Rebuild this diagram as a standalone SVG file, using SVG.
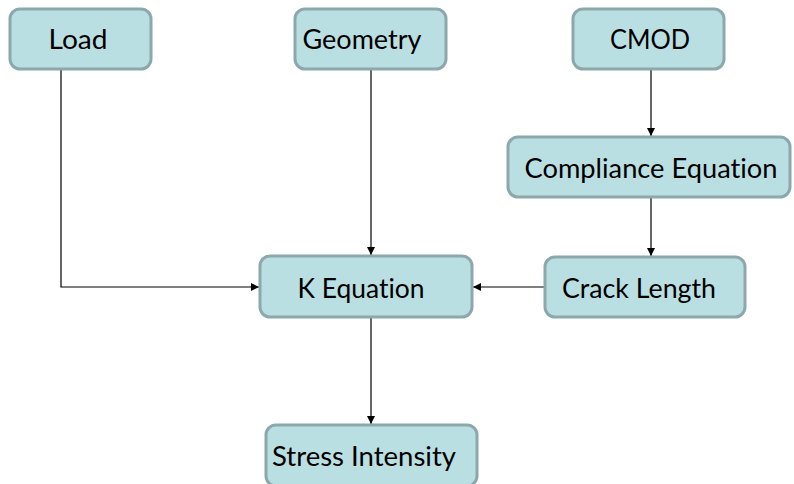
<svg xmlns="http://www.w3.org/2000/svg" width="794" height="484" viewBox="0 0 794 484">
<style>
.box{fill:#b9dfe3;stroke:#8da8ab;stroke-width:3}
.lbl{font-family:Lato,"Open Sans","Liberation Sans",sans-serif;font-size:26px;fill:#000;text-anchor:middle;font-variant-ligatures:none;font-feature-settings:"liga" 0}
.conn{fill:none;stroke:#000;stroke-width:1.2}
</style>
<defs>
<marker id="arr" viewBox="0 0 10 10" refX="10" refY="5" markerWidth="8" markerHeight="8" markerUnits="userSpaceOnUse" orient="auto">
<path d="M0,0 L10,5 L0,10 z" fill="#000"/>
</marker>
</defs>
<rect width="794" height="484" fill="#fff"/>
<g id="connectors">
<path class="conn" d="M61,70 V287 H259" marker-end="url(#arr)"/>
<path class="conn" d="M371,69 V255" marker-end="url(#arr)"/>
<path class="conn" d="M651,69 V136" marker-end="url(#arr)"/>
<path class="conn" d="M651,198 V256" marker-end="url(#arr)"/>
<path class="conn" d="M545,287 H473" marker-end="url(#arr)"/>
<path class="conn" d="M371,318 V424" marker-end="url(#arr)"/>
</g>
<g id="load"><rect class="box" x="10" y="9" width="141" height="60" rx="10"/><text class="lbl" x="78" y="49" textLength="59" lengthAdjust="spacingAndGlyphs">Load</text></g>
<g id="geometry"><rect class="box" x="295" y="9" width="151" height="60" rx="10"/><text class="lbl" x="362" y="49" textLength="119" lengthAdjust="spacingAndGlyphs">Geometry</text></g>
<g id="cmod"><rect class="box" x="573" y="9" width="151" height="60" rx="10"/><text class="lbl" x="650" y="49" textLength="80" lengthAdjust="spacingAndGlyphs">CMOD</text></g>
<g id="compliance"><rect class="box" x="508" y="137" width="282" height="60" rx="10"/><text class="lbl" x="651" y="178" textLength="253" lengthAdjust="spacingAndGlyphs">Compliance Equation</text></g>
<g id="kequation"><rect class="box" x="260" y="256" width="212" height="61" rx="10"/><text class="lbl" x="361" y="298" textLength="127" lengthAdjust="spacingAndGlyphs">K Equation</text></g>
<g id="cracklength"><rect class="box" x="545" y="257" width="200" height="60" rx="10"/><text class="lbl" x="639" y="298" textLength="154" lengthAdjust="spacingAndGlyphs">Crack Length</text></g>
<g id="stress"><rect class="box" x="266" y="425" width="211" height="61" rx="10"/><text class="lbl" x="364" y="466" textLength="184" lengthAdjust="spacingAndGlyphs">Stress Intensity</text></g>
</svg>
